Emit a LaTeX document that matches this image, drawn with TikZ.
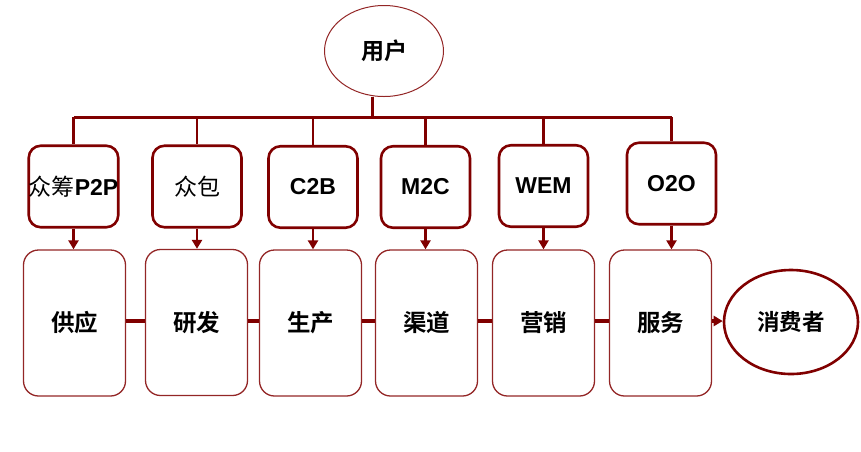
\documentclass[tikz,border=0pt]{standalone}
\usepackage{fontspec}
\setmainfont{Liberation Sans}
\newfontfamily\cjk{Noto Sans CJK SC}[BoldFont={Noto Sans CJK SC Bold}]
\usepackage{tikz}
\usetikzlibrary{shapes.geometric, arrows.meta}
\definecolor{DarkRed}{RGB}{128,0,0}
\tikzstyle{arrow} = [-{Triangle[length=9pt,width=10pt]}]
\tikzstyle{link} = [DarkRed, line width=3pt]
\tikzstyle{topbox} = [draw=DarkRed, line width=2.6pt, rounded corners=12pt, minimum width=89pt, minimum height=81.5pt, inner sep=0pt, font=\fontsize{23}{27}\selectfont\bfseries]
\tikzstyle{chainbox} = [draw=DarkRed!85, line width=1.3pt, rounded corners=15pt, minimum width=102pt, minimum height=146pt, font=\cjk\fontsize{23.5}{28}\selectfont\bfseries]

\begin{document}
\begin{tikzpicture}[x=1pt,y=-1pt]
      \useasboundingbox (0,0) rectangle (861,451);
      % user on top
      \node[ellipse,draw=DarkRed!85,line width=1pt,minimum width=119pt,minimum height=91pt,font=\cjk\fontsize{23}{27}\selectfont\bfseries] (user) at (384,51) {用户};
      \coordinate (stem) at (372,117);
      % modes
      \node[topbox] (t1) at (73.5,186.5) {{\cjk\mdseries 众筹}P2P};
      \node[topbox] (t2) at (197,186.5) {\cjk\mdseries 众包};
      \node[topbox] (t3) at (313,187) {C2B};
      \node[topbox] (t4) at (425.5,187) {M2C};
      \node[topbox] (t5) at (543.5,186) {WEM};
      \node[topbox] (t6) at (671.5,183.5) {O2O};
      % value chain
      \node[chainbox] (b1) at (74.5,323) {供应};
      \node[chainbox] (b2) at (196.5,322.5) {研发};
      \node[chainbox] (b3) at (310.5,323) {生产};
      \node[chainbox] (b4) at (426.5,323) {渠道};
      \node[chainbox] (b5) at (543.5,323) {营销};
      \node[chainbox] (b6) at (660.5,323) {服务};
      \node[ellipse,draw=DarkRed,line width=2.6pt,minimum width=134pt,minimum height=104pt,font=\cjk\fontsize{22.5}{27}\selectfont\bfseries] (cons) at (791,322) {消费者};
      \coordinate (row) at (0,321);
      % connectors
      \draw[link] (user.south -| stem) -- (stem);
      \draw[link] (t1.north |- stem) -- (t6.north |- stem);
      \foreach \i in {1,...,6}{
        \draw[link,line width=2.5pt] (t\i.north |- stem) -- (t\i.north);
        \draw[link,line width=2.5pt,arrow] (t\i.south) -- (t\i.south |- b\i.north);
      }
      \foreach \i/\j in {1/2,2/3,3/4,4/5,5/6}
        \draw[link,line width=4pt] (b\i.east |- row) -- (b\j.west |- row);
      \draw[link,line width=4pt,arrow] (b6.east |- row) -- (cons.west |- row);
    \end{tikzpicture}
\end{document}
